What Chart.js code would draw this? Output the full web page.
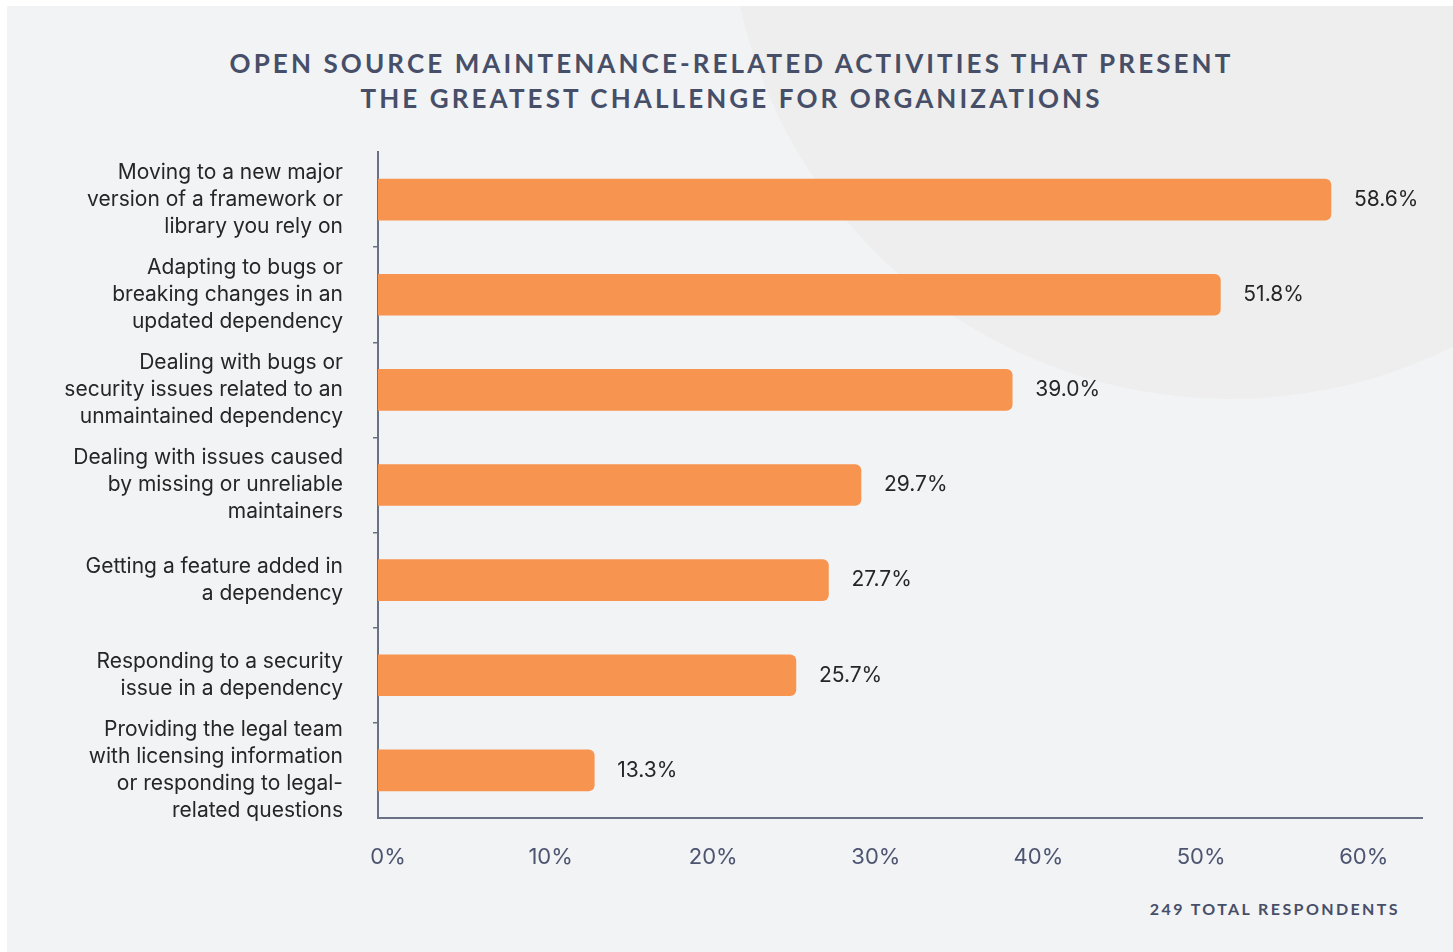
<!DOCTYPE html>
<html lang="en">
<head>
<meta charset="UTF-8">
<title>Open source maintenance challenges</title>
<script src="https://cdn.jsdelivr.net/npm/chart.js"></script>
<style>
  body { margin: 0; background: #fff; width: 1453px; height: 952px; overflow: hidden; }
  #panel { position: absolute; left: 7px; top: 6px; width: 1446px; height: 946px; background: #f2f3f5; overflow: hidden; }
  #blob { position: absolute; left: 721px; top: -611px; width: 1004px; height: 1004px; border-radius: 50%; background: #edeeed; }
  #title { position: absolute; left: 0; top: 40px; width: 100%; text-align: center; font-family: Lato, sans-serif; font-weight: 700;
           font-size: 26px; line-height: 35px; letter-spacing: 3.1px; padding-left: 3px; box-sizing: border-box; color: #474e68; }
  #footer { position: absolute; right: 53px; top: 893px; font-family: Lato, sans-serif; font-weight: 700; font-size: 16px;
            letter-spacing: 2.4px; color: #474e68; }
  #chart { position: absolute; left: 0; top: 0; }
</style>
</head>
<body>
<div id="panel">
  <div id="blob"></div>
  <div id="title">OPEN SOURCE MAINTENANCE-RELATED ACTIVITIES THAT PRESENT<br>THE GREATEST CHALLENGE FOR ORGANIZATIONS</div>
  <div id="footer">249 TOTAL RESPONDENTS</div>
</div>
<canvas id="chart" width="1453" height="952"></canvas>

<script>
  // categories (multi-line labels), values in %, x ticks
  const categories = [
    ['Moving to a new major', 'version of a framework or', 'library you rely on'],
    ['Adapting to bugs or', 'breaking changes in an', 'updated dependency'],
    ['Dealing with bugs or', 'security issues related to an', 'unmaintained dependency'],
    ['Dealing with issues caused', 'by missing or unreliable', 'maintainers'],
    ['Getting a feature added in', 'a dependency'],
    ['Responding to a security', 'issue in a dependency'],
    ['Providing the legal team', 'with licensing information', 'or responding to legal-', 'related questions']
  ];
  const shares = [58.6, 51.8, 39.0, 29.7, 27.7, 25.7, 13.3];
  const tickValues = [0, 10, 20, 30, 40, 50, 60];

  const axisColor = '#6b7184';

  // value text to the right of each bar
  const valueLabels = {
    id: 'valueLabels',
    afterDatasetsDraw(chart) {
      const ctx = chart.ctx;
      const meta = chart.getDatasetMeta(0);
      ctx.save();
      ctx.font = '21px Inter';
      ctx.fillStyle = '#262626';
      ctx.textBaseline = 'middle';
      meta.data.forEach((bar, i) => {
        ctx.fillText(shares[i].toFixed(1) + '%', bar.x + 23, bar.y);
      });
      ctx.restore();
    }
  };

  new Chart(document.getElementById('chart'), {
    type: 'bar',
    data: {
      labels: categories,
      datasets: [{
        data: shares,
        backgroundColor: '#f7944f',
        borderRadius: 6,
        barThickness: 41
      }]
    },
    options: {
      indexAxis: 'y',
      responsive: false,
      animation: false,
      layout: { padding: { top: 152, right: 31, bottom: 54, left: 0 } },
      plugins: { legend: { display: false }, tooltip: { enabled: false } },
      scales: {
        x: {
          min: 0,
          max: 64.2,
          afterFit: s => { s.height = 80; },
          afterBuildTicks: s => { s.ticks = tickValues.map(v => ({ value: v })); },
          grid: { display: false, drawTicks: false },
          border: { display: true, color: axisColor, width: 2 },
          ticks: {
            labelOffset: 10,
            padding: 26,
            color: '#4d5470',
            font: { family: 'Inter', size: 22 },
            callback: v => v + '%'
          }
        },
        y: {
          afterFit: s => { s.width = 378; },
          grid: {
            drawOnChartArea: false,
            tickLength: 5,
            lineWidth: 1.5,
            color: c => (c.tick && c.index > 0) ? axisColor : 'transparent'
          },
          border: { display: true, color: axisColor, width: 2 },
          ticks: {
            autoSkip: false,
            padding: 30,
            color: '#262626',
            font: { family: 'Inter', size: 21, lineHeight: 1.29 }
          }
        }
      }
    },
    plugins: [valueLabels]
  });
</script>
</body>
</html>
